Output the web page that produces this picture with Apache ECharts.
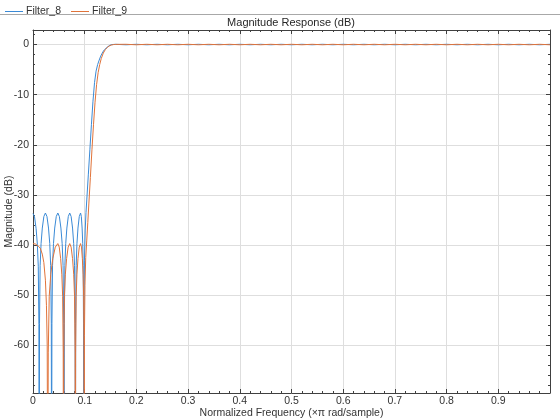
<!DOCTYPE html>
<html>
<head>
<meta charset="utf-8">
<script src="https://cdn.jsdelivr.net/npm/echarts@6/dist/echarts.min.js"></script>
<style>
html,body{margin:0;padding:0;background:#fff;}
#chart{width:560px;height:420px;}
</style>
</head>
<body>
<div id="chart"></div>
<script>
// Filter_8 stopband + transition (normalized freq, dB)
const stopFreq8 = [0,0.003,0.006,0.0084,0.0102,0.0114,0.012,0.0126,0.0138,0.0156,0.018,0.021,0.024,0.027,0.030,0.0324,0.0342,0.0354,0.036,0.0366,0.0378,0.0396,0.042,0.045,0.048,0.051,0.054,0.0564,0.0582,0.0594,0.060,0.06055,0.06165,0.0633,0.0655,0.06825,0.071,0.07375,0.0765,0.0787,0.08035,0.08145,0.082,0.0825,0.0835,0.085,0.087,0.0895,0.092,0.0935,0.095,0.0962,0.0971,0.0977,0.098,0.0985,0.0995,0.101,0.1025,0.104,0.107,0.110,0.113,0.116,0.119,0.122,0.125,0.128,0.131,0.135,0.138,0.141,0.145,0.148,0.151,0.156];
const stopMag8 = [-33.7,-34.4,-36.7,-39.8,-44.2,-55.8,-100,-55.7,-44.1,-39.7,-36.6,-34.3,-33.6,-34.3,-36.6,-39.7,-44.1,-55.7,-100,-55.7,-44.1,-39.7,-36.6,-34.3,-33.6,-34.3,-36.6,-39.7,-44.1,-55.7,-100,-55.7,-44.1,-39.7,-36.6,-34.3,-33.6,-34.3,-36.6,-39.7,-44.1,-55.7,-100,-55.7,-44.1,-39.7,-36.6,-34.3,-33.6,-34.3,-36.6,-39.7,-44.1,-55.7,-100,-55,-43,-37,-33.5,-31,-26,-21,-16,-11.3,-7.6,-5.3,-4.0,-3.1,-2.3,-1.5,-1.05,-0.7,-0.4,-0.18,-0.04,0.02];
// Filter_9 stopband + transition
const stopFreq9 = [0,0.005,0.010,0.014,0.018,0.021,0.024,0.026,0.0275,0.0285,0.0295,0.0314,0.03435,0.03825,0.04312,0.048,0.05075,0.0535,0.0557,0.05735,0.05845,0.059,0.0596,0.0608,0.0626,0.065,0.068,0.071,0.07375,0.0765,0.0787,0.08035,0.08145,0.082,0.0825,0.0835,0.085,0.087,0.0895,0.092,0.09375,0.0955,0.0969,0.09795,0.09865,0.099,0.0995,0.1005,0.102,0.104,0.106,0.108,0.111,0.114,0.117,0.120,0.123,0.126,0.129,0.132,0.136,0.140,0.144,0.148,0.152,0.156,0.160];
const stopMag9 = [-39.7,-39.8,-40.2,-40.6,-41.8,-43.5,-47,-52,-60,-100,-61.5,-50.2,-45.8,-42.7,-40.4,-39.7,-40.4,-42.7,-45.8,-50.2,-61.5,-100,-61.5,-50.2,-45.8,-42.7,-40.4,-39.7,-40.4,-42.7,-45.8,-50.2,-61.5,-100,-61.5,-50.2,-45.8,-42.7,-40.4,-39.7,-40.4,-42.7,-45.8,-50.2,-61.5,-100,-58,-48,-42.5,-39,-35.5,-31.8,-26.5,-21,-16,-11.5,-8,-5.6,-4.0,-2.8,-1.7,-1.0,-0.55,-0.25,-0.08,0.0,0.03];
// passband (small ripple around 0 dB)
const passFreq = [0.16,0.18,0.20,0.22,0.24,0.26,0.28,0.30,0.32,0.34,0.36,0.38,0.40,0.42,0.44,0.46,0.48,0.50,0.52,0.54,0.56,0.58,0.60,0.62,0.64,0.66,0.68,0.70,0.72,0.74,0.76,0.78,0.80,0.82,0.84,0.86,0.88,0.90,0.92,0.94,0.96,0.98,1.00];
const passMag8 = [0.04,-0.05,0.05,-0.05,0.05,-0.05,0.05,-0.05,0.05,-0.05,0.05,-0.05,0.05,-0.05,0.05,-0.05,0.05,-0.05,0.05,-0.05,0.05,-0.05,0.05,-0.05,0.05,-0.05,0.05,-0.05,0.05,-0.05,0.05,-0.05,0.05,-0.05,0.05,-0.05,0.05,-0.05,0.05,-0.05,0.05,-0.05,0.05];
const passMag9 = [-0.04,0.05,-0.05,0.05,-0.05,0.05,-0.05,0.05,-0.05,0.05,-0.05,0.05,-0.05,0.05,-0.05,0.05,-0.05,0.05,-0.05,0.05,-0.05,0.05,-0.05,0.05,-0.05,0.05,-0.05,0.05,-0.05,0.05,-0.05,0.05,-0.05,0.05,-0.05,0.05,-0.05,0.05,-0.05,0.05,-0.05,0.05,-0.05];
const seriesNames = ['Filter_8','Filter_9'];
const xTicksShown = ['0','0.1','0.2','0.3','0.4','0.5','0.6','0.7','0.8','0.9'];

function zip(fa, ma, fb, mb){
  const out = [];
  for (let i=0;i<fa.length;i++) out.push([fa[i], ma[i]]);
  for (let i=0;i<fb.length;i++) out.push([fb[i], mb[i]]);
  return out;
}
const data8 = zip(stopFreq8, stopMag8, passFreq, passMag8);
const data9 = zip(stopFreq9, stopMag9, passFreq, passMag9);

const FONT = '"Liberation Sans", Arial, Helvetica, sans-serif';
const AX = '#404040';
const GRIDC = '#dedede';
const colors = ['#3a8ad6', '#e0733a'];

const chart = echarts.init(document.getElementById('chart'), null, {renderer:'canvas'});

const xBase = {
  type:'value', min:0, max:1, interval:0.1,
  axisLine:{show:true, onZero:false, lineStyle:{color:AX, width:1}},
  axisTick:{show:true, inside:true, length:4, lineStyle:{color:AX}},
  minorTick:{show:true, splitNumber:5, length:2, lineStyle:{color:AX}},
};
const yBase = {
  type:'value', min:-69.5, max:2.9, splitNumber:7,
  axisLine:{show:true, onZero:false, lineStyle:{color:AX, width:1}},
  axisTick:{show:true, inside:true, length:4, lineStyle:{color:AX}},
  minorTick:{show:true, splitNumber:5, length:2, lineStyle:{color:AX}},
};

chart.setOption({
  animation:false,
  color: colors,
  textStyle:{fontFamily:FONT},
  grid:{left:33, right:10, top:30, bottom:27, containLabel:false, outerBoundsMode:'none'},
  legend:{
    data: seriesNames, left:0, top:1, icon:'rect', itemWidth:18, itemHeight:1, itemGap:10,
    textStyle:{fontFamily:FONT, fontSize:10.5, color:'#333', padding:[0,0,0,-2]}
  },
  graphic:[
    {type:'line', shape:{x1:0,y1:14.5,x2:560,y2:14.5}, style:{stroke:'#a8a8a8', lineWidth:1}},
    {type:'text', x:291, y:23, style:{text:'Magnitude Response (dB)', font:'11px '+FONT, fill:'#262626', textAlign:'center', textVerticalAlign:'middle'}}
  ],
  xAxis:[
    Object.assign({}, xBase, {
      position:'bottom',
      name:'Normalized Frequency (×π rad/sample)', nameLocation:'middle', nameGap:15, nameMoveOverlap:false,
      nameTextStyle:{fontFamily:FONT, fontSize:10.5, color:'#333', verticalAlign:'top'},
      axisLabel:{show:true, margin:3, fontFamily:FONT, fontSize:10.5, color:'#333',
        formatter:function(v){ const i = Math.round(v*10); return (Math.abs(v*10-i)<1e-6 && i<xTicksShown.length) ? xTicksShown[i] : ''; }},
      splitLine:{show:true, lineStyle:{color:GRIDC, width:1}}
    }),
    Object.assign({}, xBase, {
      position:'top', axisLabel:{show:false}, splitLine:{show:false}
    })
  ],
  yAxis:[
    Object.assign({}, yBase, {
      position:'left',
      name:'Magnitude (dB)', nameLocation:'middle', nameGap:18, nameMoveOverlap:false,
      nameTextStyle:{fontFamily:FONT, fontSize:10.5, color:'#333'},
      axisLabel:{show:true, margin:4, fontFamily:FONT, fontSize:10.5, color:'#333',
        formatter:function(v){ const r = Math.round(v/10)*10; return Math.abs(v-r)<1e-6 ? String(r) : ''; }},
      splitLine:{show:true, lineStyle:{color:GRIDC, width:1}}
    }),
    Object.assign({}, yBase, {
      position:'right', axisLabel:{show:false}, splitLine:{show:false}
    })
  ],
  series:[
    {name:seriesNames[0], type:'line', xAxisIndex:0, yAxisIndex:0, data:data8, showSymbol:false, symbol:'none',
      lineStyle:{width:1, color:colors[0]}, clip:true},
    {name:seriesNames[1], type:'line', xAxisIndex:0, yAxisIndex:0, data:data9, showSymbol:false, symbol:'none',
      lineStyle:{width:1, color:colors[1]}, clip:true}
  ]
});
</script>
</body>
</html>
